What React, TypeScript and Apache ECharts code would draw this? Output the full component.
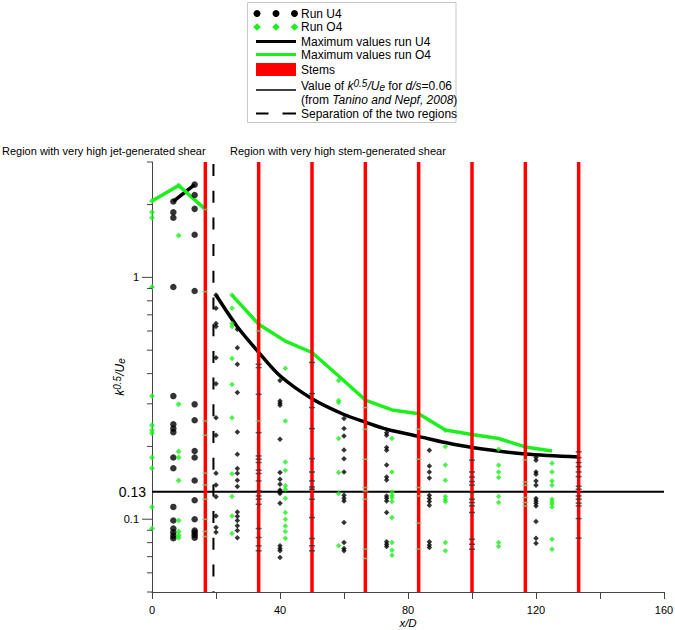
import React, { useEffect, useRef } from 'react';
import * as echarts from 'echarts';

const FONT = '"Liberation Sans", Arial, Helvetica, sans-serif';
const BLACK = '#000000';
const GREEN = '#1cf01c';
const RED = '#ff0000';
const AXIS = '#444444';

// ---- axes ----
const X_MIN = 0;
const X_MAX = 160;
const X_STEP = 20;
const Y_MIN = 0.05;
const Y_MAX = 3;
const yMajorTicks = [0.1, 1];
const yMajorLabels = ['0.1', '1'];
const yMinorTicks = [0.05, 0.06, 0.07, 0.08, 0.09, 0.2, 0.3, 0.4, 0.5, 0.6, 0.7, 0.8, 0.9, 2, 3];
const referenceLevel = 0.13; // k^0.5/Ue for d/s=0.06 (Tanino and Nepf, 2008)
const referenceLabel = '0.13';
const stemPositions = [16.67, 33.33, 50, 66.67, 83.33, 100, 116.67, 133.33];
const separationX = 19.2;

// ---- Run U4 (black) ----
const u4_x6_67 = [2.06, 1.86, 1.765, 0.912, 0.323, 0.247, 0.237, 0.229, 0.18, 0.1625, 0.1124, 0.0988, 0.0915, 0.0883, 0.0855, 0.0834];
const u4_x13_33 = [2.42, 2.19, 1.92, 1.5, 0.878, 0.2986, 0.2565, 0.1915, 0.18, 0.1445, 0.1198, 0.1, 0.0897, 0.088, 0.0859, 0.0838];
const u4_x20 = [0.845, 0.745, 0.645, 0.627, 0.465, 0.363, 0.263, 0.2223, 0.155, 0.1386, 0.1239, 0.1032, 0.0924, 0.0884];
const u4_x26_67 = [0.61, 0.512, 0.437, 0.334, 0.2296, 0.1856, 0.162, 0.155, 0.145, 0.1365, 0.107, 0.1029, 0.0988, 0.094, 0.0898, 0.0839];
const u4_x40 = [0.375, 0.308, 0.3016, 0.296, 0.214, 0.156, 0.1463, 0.1395, 0.132, 0.13, 0.1277, 0.1165, 0.0776, 0.0757, 0.074, 0.0695];
const u4_x60 = [0.2607, 0.237, 0.221, 0.1934, 0.178, 0.1568, 0.1257, 0.122, 0.119, 0.0969, 0.0801, 0.0757, 0.074];
const u4_x73_33 = [0.228, 0.2225, 0.1978, 0.1928, 0.1677, 0.1495, 0.1454, 0.1248, 0.122, 0.119, 0.1066, 0.0806, 0.0788, 0.0771];
const u4_x86_67 = [0.1928, 0.166, 0.1568, 0.148, 0.1257, 0.1218, 0.1184, 0.1142, 0.0806, 0.0783, 0.0764];
const u4_x120 = [0.1798, 0.1754, 0.1568, 0.1535, 0.144, 0.1382, 0.1218, 0.119, 0.1165, 0.1135, 0.0978, 0.0835, 0.0796];

// ---- Run O4 (green) ----
const o4_x0 = [2.07, 1.86, 1.765, 0.912, 0.3233, 0.2446, 0.233, 0.2266, 0.18, 0.1625, 0.1124, 0.0915];
const o4_x8_33 = [2.4, 1.49, 0.2986, 0.1905, 0.18, 0.1445, 0.0988, 0.0889, 0.0859, 0.0838];
const o4_x25 = [0.845, 0.745, 0.645, 0.627, 0.462, 0.361, 0.263, 0.154, 0.124, 0.1032, 0.0873];
const o4_x41_67 = [0.421, 0.2548, 0.1725, 0.1594, 0.1374, 0.133, 0.1222, 0.1066, 0.1, 0.0938, 0.089, 0.0835];
const o4_x58_33 = [0.375, 0.31, 0.3035, 0.2156, 0.156, 0.1277, 0.0776];
const o4_x75 = [0.2156, 0.1568, 0.1296, 0.1257, 0.123, 0.1184, 0.1016, 0.0801, 0.0744, 0.071];
const o4_x91_67 = [0.233, 0.1997, 0.1677, 0.145, 0.124, 0.1209, 0.1184, 0.0801, 0.074];
const o4_x108_33 = [0.1947, 0.1672, 0.1568, 0.1487, 0.124, 0.1172, 0.0801, 0.0771];
const o4_x125 = [0.1704, 0.1568, 0.144, 0.1382, 0.1209, 0.118, 0.1155, 0.1124, 0.0827, 0.0752];

// ---- points measured at the stems ----
const stemU4_33_33 = [0.437, 0.4234, 0.3285, 0.228, 0.1827, 0.177, 0.1715, 0.1594, 0.1545, 0.144, 0.1309, 0.1248, 0.121, 0.1153, 0.0915, 0.084, 0.0776, 0.074];
const stemO4_33_33 = [0.6, 0.2548];
const stemU4_50 = [0.4447, 0.3307, 0.2894, 0.237, 0.178, 0.1568, 0.144, 0.136, 0.133, 0.121, 0.1016, 0.0832, 0.0776, 0.074];
const stemO4_16_67 = [1.91, 0.873, 0.2548, 0.2223, 0.155, 0.1386, 0.121, 0.1, 0.089, 0.0848];
const stemO4_66_67 = [0.2894, 0.2355, 0.177, 0.1352, 0.1309, 0.121, 0.0752, 0.0688];
const stemO4_83_33 = [0.2355, 0.177, 0.1352, 0.1248, 0.0963, 0.0752];
const stemU4_100 = [0.1754, 0.1568, 0.1495, 0.1432, 0.1382, 0.129, 0.121, 0.1172, 0.1135, 0.1066, 0.0827, 0.0788, 0.0752];
const stemO4_116_67 = [0.176, 0.1426, 0.1382, 0.123, 0.1172, 0.1135];
const stemU4_133_33 = [0.19, 0.1798, 0.1715, 0.165, 0.1568, 0.15, 0.1368, 0.133, 0.1248, 0.121, 0.1165, 0.1135, 0.1006, 0.0835];

// ---- maximum-value lines ----
const u4MaxJetX = [6.67, 13.33];
const u4MaxJetY = [2.06, 2.42];
const u4MaxWakeX = [20, 26.67, 33.33, 40, 50, 60, 66.67, 73.33, 83.33, 91.67, 100, 116.67, 133.33];
const u4MaxWakeY = [0.845, 0.625, 0.49, 0.392, 0.315, 0.271, 0.252, 0.2355, 0.22, 0.2075, 0.198, 0.186, 0.181];
const o4MaxJetX = [0, 8.33, 16.67];
const o4MaxJetY = [2.07, 2.4, 1.91];
const o4MaxWakeX = [25, 33.33, 41.67, 50, 58.33, 66.67, 75, 83.33, 91.67, 100, 108.33, 116.67, 125];
const o4MaxWakeY = [0.845, 0.64, 0.545, 0.489, 0.391, 0.311, 0.283, 0.273, 0.234, 0.224, 0.2156, 0.199, 0.1915];

const cols = (list: Array<[number, number[]]>) => {
  const out: number[][] = [];
  list.forEach(([x, ys]) => ys.forEach((y) => out.push([x, y])));
  return out;
};
const zip = (xs: number[], ys: number[]) => xs.map((x, i) => [x, ys[i]]);

const u4Jet = cols([[6.67, u4_x6_67], [13.33, u4_x13_33]]);
const u4Wake = cols([[20, u4_x20], [26.67, u4_x26_67], [40, u4_x40], [60, u4_x60], [73.33, u4_x73_33], [86.67, u4_x86_67], [120, u4_x120]]);
const o4Jet = cols([[0, o4_x0], [8.33, o4_x8_33]]);
const o4Wake = cols([[25, o4_x25], [41.67, o4_x41_67], [58.33, o4_x58_33], [75, o4_x75], [91.67, o4_x91_67], [108.33, o4_x108_33], [125, o4_x125]]);
const stemU4 = cols([[33.33, stemU4_33_33], [50, stemU4_50], [100, stemU4_100], [133.33, stemU4_133_33]]);
const stemO4 = cols([[16.67, stemO4_16_67], [33.33, stemO4_33_33], [66.67, stemO4_66_67], [83.33, stemO4_83_33], [116.67, stemO4_116_67]]);

const txt = (x: number, y: number, text: string, extra: any = {}) => ({
  type: 'text',
  x,
  y,
  silent: true,
  style: { text, fontSize: 12, fontFamily: FONT, fill: '#000', verticalAlign: 'middle', align: 'left', ...extra },
});

const richBase = { fontSize: 12, fontFamily: FONT, fill: '#000', verticalAlign: 'middle' };
const legendRich = {
  n: { ...richBase },
  i: { ...richBase, fontStyle: 'italic' },
  sup: { ...richBase, fontSize: 10, fontStyle: 'italic', padding: [0, 0, 5, 0] },
  sub: { ...richBase, fontSize: 10, fontStyle: 'italic', padding: [4, 0, 0, 0] },
};

const diamond = (cx: number, cy: number, r: number, fill: string) => ({
  type: 'polygon',
  silent: true,
  shape: { points: [[cx, cy - r], [cx + r, cy], [cx, cy + r], [cx - r, cy]] },
  style: { fill },
});

const LX1 = 256;
const LX2 = 296;
const LT = 301;
const legendGraphic = [
  { type: 'rect', silent: true, shape: { x: 247.5, y: 2.5, width: 208.5, height: 120 }, style: { fill: '#fff', stroke: '#c8c8c8', lineWidth: 1 } },
  ...[257, 276, 294.5].map((cx) => ({ type: 'circle', silent: true, shape: { cx, cy: 13.5, r: 3.5 }, style: { fill: BLACK } })),
  txt(LT, 13.5, 'Run U4'),
  ...[257, 276, 294.5].map((cx) => diamond(cx, 27, 3.8, GREEN)),
  txt(LT, 27, 'Run O4'),
  { type: 'line', silent: true, shape: { x1: LX1, y1: 41.5, x2: LX2, y2: 41.5 }, style: { stroke: BLACK, lineWidth: 3 } },
  txt(LT, 41.5, 'Maximum values run U4'),
  { type: 'line', silent: true, shape: { x1: LX1, y1: 54.5, x2: LX2, y2: 54.5 }, style: { stroke: GREEN, lineWidth: 3 } },
  txt(LT, 54.5, 'Maximum values run O4'),
  { type: 'rect', silent: true, shape: { x: LX1, y: 63, width: LX2 - LX1, height: 13 }, style: { fill: RED } },
  txt(LT, 70, 'Stems'),
  { type: 'line', silent: true, shape: { x1: LX1, y1: 90, x2: LX2, y2: 90 }, style: { stroke: BLACK, lineWidth: 1.5 } },
  txt(LT, 85.5, '{n|Value of }{i|k}{sup|0.5}{i|/U}{sub|e}{n| for }{i|d/s}{n|=0.06}', { rich: legendRich }),
  txt(LT, 100, '{n|(from }{i|Tanino and Nepf, 2008}{n|)}', { rich: legendRich }),
  { type: 'line', silent: true, shape: { x1: LX1, y1: 113.5, x2: 268.5, y2: 113.5 }, style: { stroke: BLACK, lineWidth: 2 } },
  { type: 'line', silent: true, shape: { x1: 282.5, y1: 113.5, x2: LX2, y2: 113.5 }, style: { stroke: BLACK, lineWidth: 2 } },
  txt(LT, 113.5, 'Separation of the two regions'),
  txt(2, 151, 'Region with very high jet-generated shear', { fontSize: 11 }),
  txt(230, 151, 'Region with very high stem-generated shear', { fontSize: 11 }),
];

export default function App() {
  const ref = useRef<HTMLDivElement>(null);
  useEffect(() => {
    if (!ref.current) return;
    const chart = echarts.init(ref.current, null, { renderer: 'svg' });
    const option: any = {
      animation: false,
      grid: { left: 152, right: 11, top: 162, bottom: 38, containLabel: false, outerBoundsMode: 'none' },
      xAxis: {
        type: 'value',
        min: X_MIN,
        max: X_MAX,
        interval: X_STEP,
        axisLine: { onZero: false, lineStyle: { color: AXIS, width: 1 } },
        axisTick: { length: 7, lineStyle: { color: AXIS } },
        axisLabel: {
          margin: 12,
          fontSize: 11,
          fontFamily: FONT,
          color: '#000',
          formatter: (v: number) => (v % 40 === 0 ? String(v) : ''),
        },
        splitLine: { show: false },
        name: 'x/D',
        nameLocation: 'middle',
        nameGap: 25,
        nameMoveOverlap: false,
        nameTextStyle: { fontStyle: 'italic', fontSize: 11.5, fontFamily: FONT, color: '#000' },
      },
      yAxis: {
        type: 'log',
        logBase: 10,
        min: Y_MIN,
        max: Y_MAX,
        axisLine: { show: true, onZero: false, lineStyle: { color: AXIS, width: 1 } },
        axisTick: { show: false },
        axisLabel: { show: false },
        splitLine: { show: false },
        name: '{i|k}{sup|0.5}{i|/U}{sub|e}',
        nameLocation: 'middle',
        nameGap: 25,
        nameMoveOverlap: false,
        nameTextStyle: {
          rich: {
            i: { fontStyle: 'italic', fontSize: 12, fontFamily: FONT, color: '#000', verticalAlign: 'middle' },
            sup: { fontStyle: 'italic', fontSize: 10, fontFamily: FONT, color: '#000', verticalAlign: 'middle', padding: [0, 0, 5, 0] },
            sub: { fontStyle: 'italic', fontSize: 10, fontFamily: FONT, color: '#000', verticalAlign: 'middle', padding: [4, 0, 0, 0] },
          },
        },
      },
      graphic: legendGraphic,
      series: [
        {
          type: 'custom',
          name: 'reference',
          z: 1,
          silent: true,
          clip: false,
          data: [[X_MIN, referenceLevel]],
          renderItem: (params: any, api: any) => {
            const p0 = api.coord([X_MIN, api.value(1)]);
            const p1 = api.coord([X_MAX, api.value(1)]);
            return {
              type: 'group',
              children: [
                { type: 'line', shape: { x1: p0[0], y1: p0[1], x2: p1[0], y2: p1[1] }, style: { stroke: BLACK, lineWidth: 2 } },
                { type: 'text', style: { text: referenceLabel, x: p0[0] - 6, y: p0[1], align: 'right', verticalAlign: 'middle', fontSize: 14, fontFamily: FONT, fill: '#000' } },
              ],
            };
          },
        },
        {
          type: 'line', name: 'Maximum values run U4', z: 2, silent: true, symbol: 'none',
          data: zip(u4MaxJetX, u4MaxJetY), lineStyle: { color: BLACK, width: 3.5 },
        },
        {
          type: 'line', name: 'Maximum values run U4', z: 2, silent: true, symbol: 'none', smooth: 0.3,
          data: zip(u4MaxWakeX, u4MaxWakeY), lineStyle: { color: BLACK, width: 3.5 },
        },
        {
          type: 'line', name: 'Maximum values run O4', z: 2, silent: true, symbol: 'none',
          data: zip(o4MaxJetX, o4MaxJetY), lineStyle: { color: GREEN, width: 3.5 },
        },
        {
          type: 'line', name: 'Maximum values run O4', z: 2, silent: true, symbol: 'none',
          data: zip(o4MaxWakeX, o4MaxWakeY), lineStyle: { color: GREEN, width: 3.5 },
        },
        {
          type: 'custom',
          name: 'Stems',
          z: 3,
          silent: true,
          clip: false,
          data: stemPositions.map((x) => [x, Y_MIN]),
          renderItem: (params: any, api: any) => {
            const p0 = api.coord([api.value(0), Y_MIN]);
            const p1 = api.coord([api.value(0), Y_MAX]);
            return { type: 'line', shape: { x1: p0[0], y1: p0[1], x2: p1[0], y2: p1[1] }, style: { stroke: RED, lineWidth: 3.5 } };
          },
        },
        {
          type: 'custom',
          name: 'Separation',
          z: 3,
          silent: true,
          clip: false,
          data: [[separationX, Y_MIN]],
          renderItem: (params: any, api: any) => {
            const p0 = api.coord([api.value(0), Y_MAX]);
            const p1 = api.coord([api.value(0), Y_MIN]);
            return { type: 'line', shape: { x1: p0[0], y1: p0[1] + 2, x2: p1[0], y2: p1[1] }, style: { stroke: BLACK, lineWidth: 2, lineDash: [12, 14.7] } };
          },
        },
        {
          type: 'scatter', name: 'Run U4', z: 4, silent: true, symbol: 'circle', symbolSize: 6.5,
          itemStyle: { color: BLACK }, data: u4Jet,
        },
        {
          type: 'scatter', name: 'Run U4', z: 4, silent: true, symbol: 'diamond', symbolSize: 5.5,
          itemStyle: { color: BLACK }, data: u4Wake,
        },
        {
          type: 'scatter', name: 'Run O4', z: 4, silent: true, symbol: 'diamond', symbolSize: 6,
          itemStyle: { color: GREEN }, data: o4Jet,
        },
        {
          type: 'scatter', name: 'Run O4', z: 4, silent: true, symbol: 'diamond', symbolSize: 5.5,
          itemStyle: { color: GREEN }, data: o4Wake,
        },
        {
          type: 'scatter', name: 'Run U4 at stems', z: 5, silent: true, symbol: 'rect', symbolSize: [6, 1.5],
          itemStyle: { color: '#333' }, data: stemU4,
        },
        {
          type: 'scatter', name: 'Run O4 at stems', z: 5, silent: true, symbol: 'rect', symbolSize: [6, 1.5],
          itemStyle: { color: '#7ad07a' }, data: stemO4,
        },
        {
          type: 'custom',
          name: 'yMinorTicks',
          z: 6,
          silent: true,
          clip: false,
          data: yMinorTicks.map((v) => [X_MIN, v]),
          renderItem: (params: any, api: any) => {
            const p = api.coord([X_MIN, api.value(1)]);
            return { type: 'line', shape: { x1: p[0] - 5, y1: p[1], x2: p[0], y2: p[1] }, style: { stroke: AXIS, lineWidth: 1 } };
          },
        },
        {
          type: 'custom',
          name: 'yMajorTicks',
          z: 6,
          silent: true,
          clip: false,
          data: yMajorTicks.map((v) => [X_MIN, v]),
          renderItem: (params: any, api: any) => {
            const p = api.coord([X_MIN, api.value(1)]);
            return {
              type: 'group',
              children: [
                { type: 'line', shape: { x1: p[0] - 10, y1: p[1], x2: p[0], y2: p[1] }, style: { stroke: AXIS, lineWidth: 1 } },
                { type: 'text', style: { text: yMajorLabels[params.dataIndex], x: p[0] - 13, y: p[1], align: 'right', verticalAlign: 'middle', fontSize: 11, fontFamily: FONT, fill: '#000' } },
              ],
            };
          },
        },
      ],
    };
    chart.setOption(option);
    return () => chart.dispose();
  }, []);
  return <div ref={ref} style={{ position: 'absolute', left: 0, top: 0, width: 675, height: 630, background: '#fff' }} />;
}
